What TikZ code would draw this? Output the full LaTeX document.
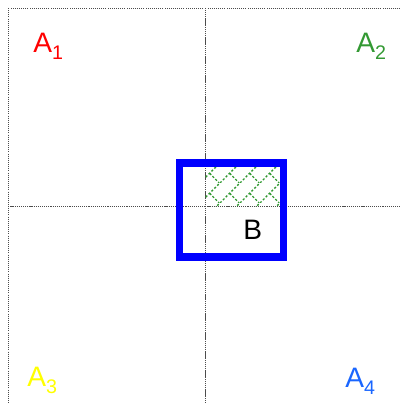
\documentclass[tikz,border=0pt]{standalone}
\usepackage{fontspec}
\setmainfont{Liberation Sans}
\usetikzlibrary{patterns.meta}

\definecolor{labelred}{RGB}{255,0,0}
\definecolor{labelgreen}{RGB}{51,153,51}
\definecolor{labelyellow}{RGB}{255,255,0}
\definecolor{labelblue}{RGB}{26,102,255}

\tikzdeclarepattern{
  name=scales, type=uncolored,
  bounding box={(0,0) and (0.5cm,0.5cm)},
  tile size={(0.5cm,0.5cm)},
  line width=1.6pt,
  code={
    \draw[dash pattern=on 1.6pt off 1.4pt] (0,0) -- (0.5cm,0.5cm);
    \draw[dash pattern=on 1.6pt off 1.4pt] (0.25cm,0.25cm) -- (0.5cm,0);
  }
}

\newcommand{\sublabel}[2]{#1\raisebox{-5pt}{\fontsize{14}{14}\selectfont #2}}

\begin{document}
\begin{tikzpicture}[
    x=0.025cm, y=-0.025cm,
    quadrant/.style={draw=black!70, densely dotted, line width=0.5pt},
    quadlabel/.style={anchor=base west, inner sep=0pt, font=\fontsize{20}{24}\selectfont},
    region/.style={draw=blue, line width=5pt}
  ]
    \clip (0,0) rectangle (400,403);
    % quadrants
    \draw[quadrant] (8,8) rectangle (205,206);
    \draw[quadrant] (205,8) rectangle (402,206);
    \draw[quadrant] (8,206) rectangle (205,404);
    \draw[quadrant] (205,206) rectangle (402,404);
    \node[quadlabel, text=labelred] (a1) at (33,52) {\sublabel{A}{1}};
    \node[quadlabel, text=labelgreen] (a2) at (356,52) {\sublabel{A}{2}};
    \node[quadlabel, text=labelyellow] (a3) at (27,386) {\sublabel{A}{3}};
    \node[quadlabel, text=labelblue] (a4) at (345,387) {\sublabel{A}{4}};
    % overlap of B with A2
    \fill[pattern=scales, pattern color=labelgreen] (205,163) rectangle (283,206);
    \draw[region] (179.5,163) rectangle (283.5,257);
    \node[quadlabel] (b) at (243,239) {B};
\end{tikzpicture}
\end{document}
